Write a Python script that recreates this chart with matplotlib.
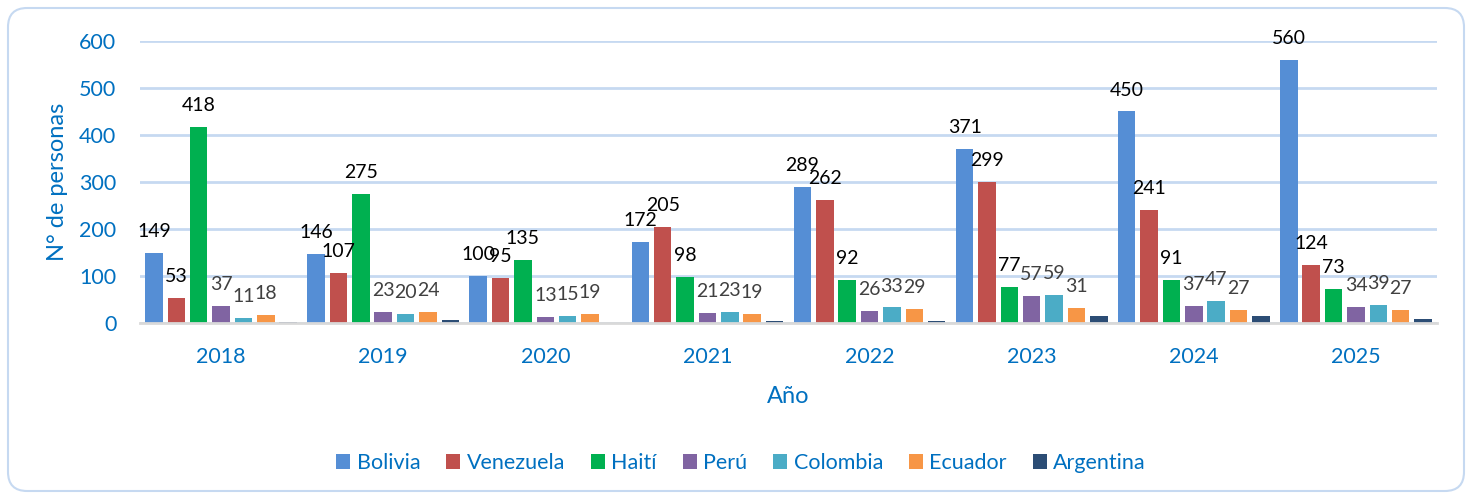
import matplotlib.pyplot as plt
import numpy as np
from matplotlib.patches import FancyBboxPatch

years = ["2018", "2019", "2020", "2021", "2022", "2023", "2024", "2025"]
bolivia = [149, 146, 100, 172, 289, 371, 450, 560]
venezuela = [53, 107, 95, 205, 262, 299, 241, 124]
haiti = [418, 275, 135, 98, 92, 77, 91, 73]
peru = [37, 23, 13, 21, 26, 57, 37, 34]
colombia = [11, 20, 15, 23, 33, 59, 47, 39]
ecuador = [18, 24, 19, 19, 29, 31, 27, 27]
argentina = [2, 6, 0, 4, 4, 15, 14, 9]

series = [
    ("Bolivia", bolivia, "#558ED5", "black"),
    ("Venezuela", venezuela, "#C0504D", "black"),
    ("Haití", haiti, "#00B050", "black"),
    ("Perú", peru, "#8064A2", "#404040"),
    ("Colombia", colombia, "#4BACC6", "#404040"),
    ("Ecuador", ecuador, "#F79646", "#404040"),
    ("Argentina", argentina, "#2C4D75", None),
]

plt.rcParams['font.family'] = ['Lato', 'DejaVu Sans']
blue = "#0070C0"

fig = plt.figure(figsize=(14.72, 4.98), dpi=100)
border = FancyBboxPatch((8 / 1472, 7 / 498), 1456 / 1472, 483 / 498,
                        boxstyle="round,pad=0,rounding_size=0.013",
                        mutation_aspect=1472 / 498,
                        transform=fig.transFigure, facecolor="white",
                        edgecolor="#C6D9F1", linewidth=1.5, zorder=-10)
fig.patches.append(border)
ax = fig.add_axes([140 / 1472, 1 - 323 / 498, 1297 / 1472, 282 / 498])
ax.set_facecolor("none")
ax.set_zorder(2)

x = np.arange(len(years))
step = 0.138
width = 0.108
for i, (name, vals, color, lcol) in enumerate(series):
    pos = x + (i - 3) * step
    bars = ax.bar(pos, vals, width, color=color, label=name, zorder=3)
    if lcol is not None:
        for b, v in zip(bars, vals):
            ax.annotate(str(v), (b.get_x() + b.get_width() / 2, v),
                        xytext=(0, 11.5), textcoords="offset points",
                        ha="center", va="baseline", fontsize=14, color=lcol,
                        zorder=4)

ax.set_xlim(-0.5, len(years) - 0.5)
ax.set_ylim(0, 600)
ax.set_yticks(range(0, 601, 100))
ax.set_xticks(x)
ax.set_xticklabels(years)
ax.tick_params(axis="both", length=0, labelsize=15.5, colors=blue)
ax.tick_params(axis="x", pad=17)
ax.tick_params(axis="y", pad=17)
ax.grid(axis="y", color="#C6D9F1", linewidth=2, zorder=0)
for s in ["top", "right", "left"]:
    ax.spines[s].set_visible(False)
ax.spines["bottom"].set_color("#D9D9D9")
ax.spines["bottom"].set_linewidth(2)
ax.spines["bottom"].set_zorder(5)

ax.set_xlabel("Año", fontsize=17, color=blue, labelpad=14)
ax.set_ylabel("N° de personas", fontsize=17, color=blue, labelpad=8)

ax.legend(loc="center", bbox_to_anchor=(741 / 1472, 1 - 463 / 498),
          bbox_transform=fig.transFigure, ncol=7, frameon=False,
          fontsize=15.5, labelcolor=blue, handlelength=0.65, handleheight=0.65,
          handletextpad=0.3, columnspacing=1.2)

plt.savefig("out.png", dpi=100)
